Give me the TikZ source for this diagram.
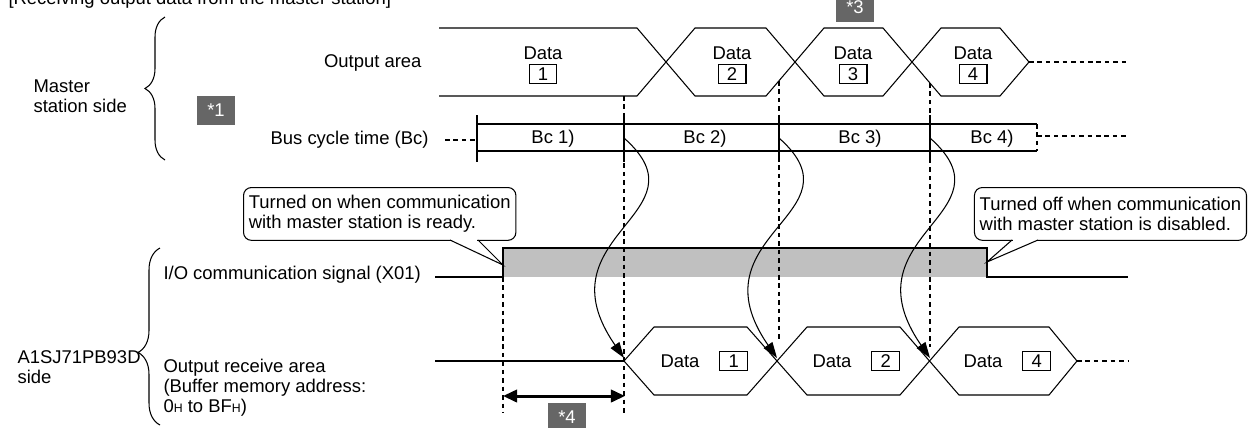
\documentclass[tikz,border=0pt]{standalone}
\usepackage{fontspec}
\setmainfont{Liberation Sans}
\usepackage{xcolor}
\usetikzlibrary{arrows.meta,decorations.pathreplacing,positioning}

\definecolor{tagfill}{RGB}{102,102,102}
\definecolor{sigfill}{RGB}{192,192,192}

\begin{document}
\begin{tikzpicture}[x=0.02cm, y=-0.02cm, line width=0.6pt,
        font=\fontsize{10.5}{11.4}\selectfont,
        lbl/.style={inner sep=0pt},
        tag/.style={fill=tagfill, text=white, minimum width=21.5pt, minimum height=16.4pt, inner sep=0pt},
        numbox/.style={draw, minimum width=15.9pt, minimum height=10.8pt, inner sep=0pt},
        dashline/.style={dash pattern=on 2.6pt off 2.2pt},
        note/.style={draw, fill=white, rounded corners=4.5pt, align=left, anchor=north west, minimum height=30.05pt, inner xsep=3pt},
        flow/.style={-{Triangle[length=9pt,width=6pt]}}]
        \useasboundingbox (0,0) rectangle (1255,427);

        % title, cut by the page edge
        \node[anchor=base west, inner sep=0pt] (title) at (8,4) {[Receiving output data from the master station]};

        % side braces
        \draw[decorate, decoration={brace, amplitude=0.4cm}] (165,160) -- (165,17);
        \draw[decorate, decoration={brace, amplitude=0.44cm, aspect=0.41}] (160,425) -- (160,248);
        \node[lbl, anchor=west, align=left] (master) at (33,96) {Master\\station side};
        \node[lbl, anchor=west, align=left] (slave) at (17,367) {A1SJ71PB93D\\side};

        % row labels
        \node[lbl, anchor=east] (outlbl) at (422,63) {Output area};
        \node[lbl, anchor=east] (bclbl) at (429,140) {Bus cycle time (Bc)};
        \node[lbl, anchor=west] (iolbl) at (163,275) {I/O communication signal (X01)};
        \node[lbl, anchor=west, align=left] (rcvlbl) at (163,388) {Output receive area\\(Buffer memory address:\\0{\scriptsize H} to BF{\scriptsize H})};

        % I/O signal
        \fill[sigfill] (503,248) rectangle (987,277);
        \draw (435,277) -- (503,277) -- (503,248) -- (987,248) -- (987,277) -- (1128,277);

        % output area
        \draw (439,28) -- (637,28) -- (695,96) -- (766,96) -- (824,28) -- (883,28) -- (941,96) -- (1000,96) -- (1029,62);
        \draw (439,96) -- (637,96) -- (695,28) -- (766,28) -- (824,96) -- (883,96) -- (941,28) -- (1000,28) -- (1029,62);
        \draw[dashline] (1029,62) -- (1128,62);
        \foreach \x/\n in {543/1,732/2,853/3,973/4} {
            \node[lbl] (od\n) at (\x,53) {Data};
            \node[numbox, below=2.3pt of od\n] (on\n) {\n};
        }

        % bus cycle
        \draw[dashline] (445,140) -- (475,140);
        \draw (477,115) -- (477,162);
        \draw (477,124) -- (1037,124) (477,151) -- (1037,151);
        \draw[dashline] (1037,124) -- (1037,151);
        \draw[dashline] (1037,136) -- (1128,136);
        \foreach \x in {624,779,930}
            \draw (\x,115) -- (\x,162);
        \foreach \x/\n in {553/1,705/2,860/3,992/4}
            \node[lbl] (cyc\n) at (\x,139) {Bc \n)};

        % timing guides
        \draw[dashline] (503,277) -- (503,413);
        \draw[dashline] (624,96) -- (624,413);
        \draw[dashline] (779,81) -- (779,342);
        \draw[dashline] (930,83) -- (930,347);

        % output receive area
        \draw (435,361) -- (624,361);
        \draw (624,361) -- (654,327) -- (747,327) -- (807,395) -- (900,395) -- (959,327) -- (1049,327) -- (1077,361);
        \draw (624,361) -- (654,395) -- (747,395) -- (807,327) -- (900,327) -- (959,395) -- (1049,395) -- (1077,361);
        \draw[dashline] (1077,361) -- (1128,361);
        \foreach \x/\n in {680/1,832/2,983/4} {
            \node[lbl] (rd\n) at (\x,361) {Data};
            \node[numbox, right=11pt of rd\n] (rn\n) {\n};
        }

        % transfers
        \coordinate (sep2) at (624,138);
        \coordinate (sep3) at (779,138);
        \coordinate (sep4) at (930,138);
        \coordinate (rx1) at (624,358);
        \coordinate (rx2) at (777,358);
        \coordinate (rx3) at (930,358);
        \foreach \s/\r in {sep2/rx1,sep3/rx2,sep4/rx3}
            \draw[flow] (\s) .. controls +(86,76) and +(-86,-124) .. (\r);

        % delay
        \coordinate (w0) at (503,396);
        \coordinate (w1) at (625,396);
        \draw[line width=1.7pt, {Triangle[length=8pt,width=7pt]}-{Triangle[length=8pt,width=7pt]}] (w0) -- (w1);

        % callouts
        \node[note] (oncall) at (243,187) {Turned on when communication\\with master station is ready.};
        \coordinate (ontip) at (503,265);
        \fill[white] (451,238.5) rectangle (477,241.5);
        \draw (450,240) -- (ontip) -- (478,240);

        \node[note, anchor=north east] (offcall) at (1247,187) {Turned off when communication\\with master station is disabled.};
        \coordinate (offtip) at (987,262);
        \fill[white] (1013,238.5) rectangle (1037,241.5);
        \draw (1012,240) -- (offtip) -- (1038,240);

        % note tags
        \node[tag] (t1) at (216,110.5) {*1};
        \node[tag] (t3) at (855,7.5) {*3};
        \node[tag] (t4) at (567,417.5) {*4};
    \end{tikzpicture}
\end{document}
